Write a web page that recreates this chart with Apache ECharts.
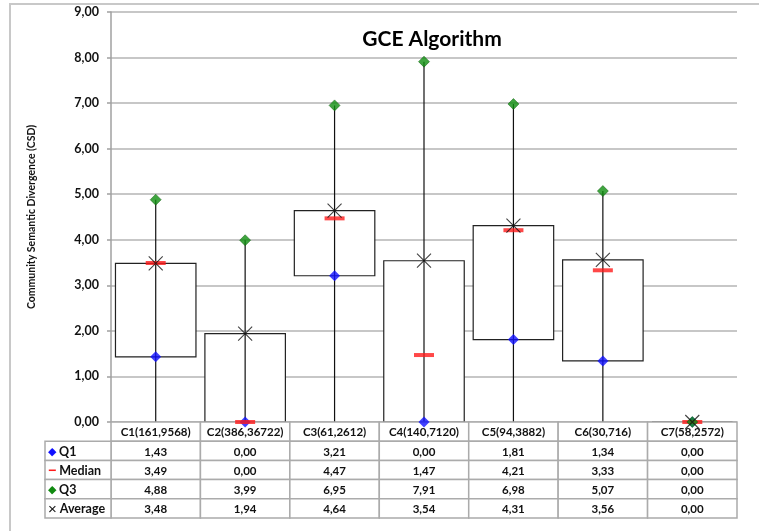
<!DOCTYPE html>
<html>
<head>
<meta charset="utf-8">
<script src="https://cdn.jsdelivr.net/npm/echarts@6/dist/echarts.min.js"></script>
<style>
  html, body { margin: 0; padding: 0; background: #fff; }
  #chart { width: 759px; height: 531px; }
</style>
</head>
<body>
<div id="chart"></div>
<script>
// chart data
var categories = ['C1(161,9568)', 'C2(386,36722)', 'C3(61,2612)', 'C4(140,7120)',
  'C5(94,3882)', 'C6(30,716)', 'C7(58,2572)'];
var q1Values = [1.43, 0.00, 3.21, 0.00, 1.81, 1.34, 0.00];
var medianValues = [3.49, 0.00, 4.47, 1.47, 4.21, 3.33, 0.00];
var q3Values = [4.88, 3.99, 6.95, 7.91, 6.98, 5.07, 0.00];
var avgValues = [3.48, 1.94, 4.64, 3.54, 4.31, 3.56, 0.00];
var rowNames = ['Q1', 'Median', 'Q3', 'Average'];

var FONT = 'Lato, "Open Sans", sans-serif';

function fmt(v) {
  return v.toFixed(2).replace('.', ',');
}

// table cells: header row + one row per statistic
var rowValues = [q1Values, medianValues, q3Values, avgValues];
var cellData = [];
var cellTexts = [];
categories.forEach(function (c, i) {
  cellData.push([i, 0]);
  cellTexts.push(c);
});
rowValues.forEach(function (vals, r) {
  vals.forEach(function (v, i) {
    cellData.push([i, r + 1]);
    cellTexts.push(fmt(v));
  });
});

var rowMarkers = ['{q1|◆}', '{med|−}', '{q3|◆}', '{avg|×}'];
var labelData = rowNames.map(function (n, r) { return [0, r]; });

var chart = echarts.init(document.getElementById('chart'));

function cellRender(texts, leftAlign, size) {
  return function (params, api) {
    var c = api.coord([api.value(0), api.value(1)]);
    var s = api.size([1, 1]);
    var x0 = c[0] - s[0] / 2;
    var y0 = c[1] - s[1] / 2;
    return {
      type: 'group',
      children: [{
        type: 'rect',
        shape: { x: x0, y: y0, width: s[0], height: s[1] },
        style: { fill: '#fff', stroke: '#ababab', lineWidth: 1.5 }
      }, {
        type: 'text',
        x: leftAlign ? x0 + 3 : c[0],
        y: c[1] + 1,
        style: {
          text: texts[params.dataIndex],
          align: leftAlign ? 'left' : 'center',
          verticalAlign: 'middle',
          font: 'bold ' + size + 'px ' + FONT,
          fill: '#111',
          rich: {
            q1: { fill: '#1010ff', font: '11px sans-serif' },
            med: { fill: '#ff1a1a', font: 'bold 14px sans-serif' },
            q3: { fill: '#108a10', font: '11px sans-serif' },
            avg: { fill: '#111', font: '15px sans-serif' }
          }
        }
      }]
    };
  };
}

chart.setOption({
  animation: false,
  title: {
    text: 'GCE Algorithm',
    left: 427,
    top: 24,
    textAlign: 'center',
    textStyle: { fontFamily: FONT, fontWeight: 'bold', fontSize: 21, color: '#000' }
  },
  graphic: [{
    type: 'rect',
    shape: { x: 10, y: 4, width: 900, height: 700 },
    style: { fill: 'none', stroke: '#c8c8c8', lineWidth: 2 },
    silent: true
  }],
  grid: [
    { left: 111, right: 22, top: 12, bottom: 109 },
    { left: 111, right: 22, top: 422, height: 96 },
    { left: 45, width: 66, top: 441.2, height: 76.8 }
  ],
  xAxis: [{
    gridIndex: 0,
    type: 'category',
    data: categories,
    axisLine: { show: false },
    axisTick: { show: false },
    axisLabel: { show: false }
  }, {
    gridIndex: 1,
    type: 'category',
    data: categories,
    show: false
  }, {
    gridIndex: 2,
    type: 'category',
    data: [''],
    show: false
  }],
  yAxis: [{
    gridIndex: 0,
    type: 'value',
    min: 0,
    max: 9,
    interval: 1,
    name: 'Community Semantic Divergence (CSD)',
    nameLocation: 'middle',
    nameGap: 74,
    nameTextStyle: { fontFamily: FONT, fontWeight: 'bold', fontSize: 10.5, color: '#111' },
    axisLine: { show: true, lineStyle: { color: '#a0a0a0', width: 1.5 } },
    axisTick: { show: true, length: 4, lineStyle: { color: '#a0a0a0', width: 1.5 } },
    axisLabel: {
      margin: 12,
      fontFamily: FONT,
      fontWeight: 'bold',
      fontSize: 12.5,
      color: '#111',
      formatter: fmt
    },
    splitLine: { lineStyle: { color: '#b4b4b4', width: 1.5 } }
  }, {
    gridIndex: 1,
    type: 'category',
    data: ['header'].concat(rowNames),
    inverse: true,
    show: false
  }, {
    gridIndex: 2,
    type: 'category',
    data: rowNames,
    inverse: true,
    show: false
  }],
  series: [{
    // boxes (Q1 to average) and whiskers (0 to Q3)
    type: 'custom',
    xAxisIndex: 0,
    yAxisIndex: 0,
    data: categories.map(function (c, i) {
      return [i, q1Values[i], avgValues[i], q3Values[i]];
    }),
    renderItem: function (params, api) {
      var i = api.value(0);
      var base = api.coord([i, 0]);
      var lo = api.coord([i, api.value(1)]);
      var hi = api.coord([i, api.value(2)]);
      var top = api.coord([i, api.value(3)]);
      var w = api.size([1, 0])[0] * 0.9;
      return {
        type: 'group',
        children: [{
          type: 'rect',
          shape: { x: lo[0] - w / 2, y: hi[1], width: w, height: lo[1] - hi[1] },
          style: { fill: '#fff', stroke: '#222', lineWidth: 1.2 }
        }, {
          type: 'line',
          shape: { x1: base[0], y1: base[1], x2: top[0], y2: top[1] },
          style: { stroke: '#111', lineWidth: 1.2 }
        }]
      };
    }
  }, {
    name: 'Q1',
    type: 'scatter',
    clip: false,
    data: q1Values,
    symbol: 'diamond',
    symbolSize: 11,
    itemStyle: { color: '#1010ff' }
  }, {
    name: 'Median',
    type: 'scatter',
    clip: false,
    data: medianValues,
    symbol: 'rect',
    symbolSize: [20, 4],
    itemStyle: { color: '#ff1a1a' }
  }, {
    name: 'Q3',
    type: 'scatter',
    clip: false,
    data: q3Values,
    symbol: 'diamond',
    symbolSize: 11,
    itemStyle: { color: '#0f8f0f', borderColor: '#0a5a0a', borderWidth: 0.6 }
  }, {
    name: 'Average',
    type: 'scatter',
    clip: false,
    data: avgValues,
    symbol: 'path://M0,0L10,10M10,0L0,10',
    symbolSize: 14,
    itemStyle: { color: 'rgba(0,0,0,0)', borderColor: '#111', borderWidth: 1.1 }
  }, {
    // data table body
    type: 'custom',
    xAxisIndex: 1,
    yAxisIndex: 1,
    data: cellData,
    renderItem: cellRender(cellTexts, false, 11.5)
  }, {
    // data table row labels
    type: 'custom',
    xAxisIndex: 2,
    yAxisIndex: 2,
    data: labelData,
    renderItem: cellRender(rowNames.map(function (n, r) {
      return rowMarkers[r] + ' ' + n;
    }), true, 12.5)
  }]
});
</script>
</body>
</html>
